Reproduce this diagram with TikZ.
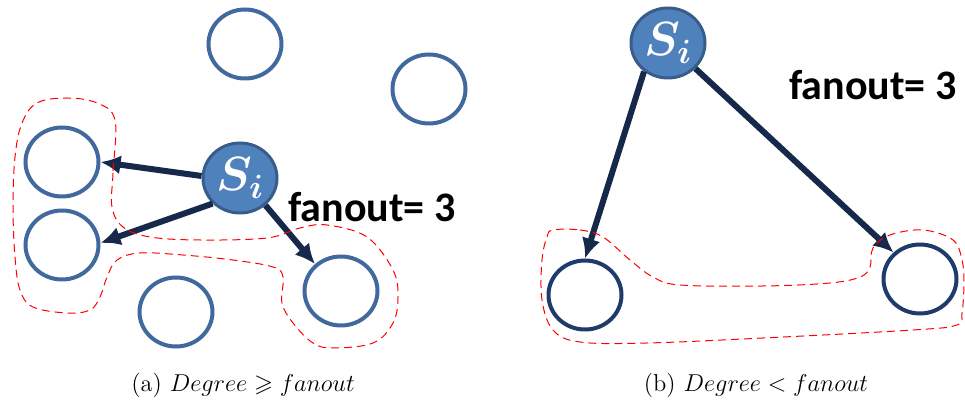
\documentclass[tikz,border=0pt]{standalone}
\usepackage{fix-cm}
\usepackage{amssymb}
\usepackage{fontspec}
\newfontfamily\fanfont{Carlito}
\usepackage{tikz}
\usetikzlibrary{arrows.meta,shapes.geometric}

\definecolor{peerblue}{HTML}{41699E}
\definecolor{peernavy}{HTML}{1F3B6A}
\definecolor{srcfill}{HTML}{4F81BD}
\definecolor{srcedge}{HTML}{385D8A}
\definecolor{arrownavy}{HTML}{16294A}

\begin{document}
\begin{tikzpicture}[
    x=0.5pt, y=-0.5pt,
    peer/.style={ellipse, draw=peerblue, line width=2pt, inner sep=0pt,
                 minimum width=36.5pt, minimum height=34.5pt},
    darkpeer/.style={peer, draw=peernavy},
    src/.style={ellipse, draw=srcedge, fill=srcfill, line width=1.5pt, inner sep=0pt,
                minimum width=37pt, minimum height=35pt, text=white,
                font=\fontsize{24}{24}\selectfont\boldmath},
    fan/.style={font=\fanfont\bfseries\fontsize{21}{23}\selectfont},
    arrow/.style={-{Latex[length=10pt, width=9.5pt]}, line width=3pt, draw=arrownavy},
    group/.style={draw=red, line width=0.5pt, dash pattern=on 4pt off 2.5pt},
    subcap/.style={font=\fontsize{12.2}{14}\selectfont}
  ]
    \useasboundingbox (0,0) rectangle (965,405);

    % (a)
    \node[peer] (pa1) at (245,44) {};
    \node[peer] (pa2) at (429,89) {};
    \node[peer] (pa3) at (62,162) {};
    \node[peer] (pa4) at (62,245) {};
    \node[peer] (pa5) at (176,312) {};
    \node[peer] (pa6) at (341,291) {};
    \node[src] (sa) at (240,178) {$S_i$};
    \node[fan] (fa) at (372,207) {fanout= 3};

    \draw[arrow] (sa.177) -- (pa3.east);
    \draw[arrow] (sa.223) -- (pa4.3);
    \draw[arrow] (sa.313) -- (pa6.134);

    \draw[group] plot[smooth cycle, tension=0.6] coordinates {
      (115,120) (113,173) (112,207) (123,227) (150,237) (200,240) (267,238)
      (300,228) (327,225) (367,237) (393,270) (398,297) (393,323) (373,343)
      (333,348) (313,343) (293,323) (282,303) (283,277) (273,267) (233,260)
      (183,255) (140,253) (117,260) (107,277) (100,297) (90,310) (67,313)
      (33,307) (20,290) (15,257) (13,207) (15,157) (22,123) (37,103)
      (67,98) (97,103)};

    \node[subcap] (ca) at (243,385) {(a) $Degree \geqslant fanout$};

    % (b)
    \node[src] (sb) at (668,43) {$S_i$};
    \node[darkpeer] (pb1) at (585,295) {};
    \node[darkpeer] (pb2) at (920,279) {};
    \node[fan] (fb) at (873,85) {fanout= 3};

    \draw[arrow] (sb.230) -- (pb1.north);
    \draw[arrow] (sb.317) -- (pb2.135);

    \draw[group] plot[smooth cycle, tension=0.6] coordinates {
      (553,230) (580,230) (603,237) (630,260) (653,277) (680,285) (763,286)
      (830,283) (860,277) (870,267) (873,248) (890,235) (923,230) (953,240)
      (962,260) (964,283) (962,313) (957,325) (913,330) (763,338) (647,343)
      (580,342) (553,330) (542,300) (542,260) (547,237)};

    \node[subcap] (cb) at (756,385) {(b) $Degree < fanout$};
  \end{tikzpicture}
\end{document}
